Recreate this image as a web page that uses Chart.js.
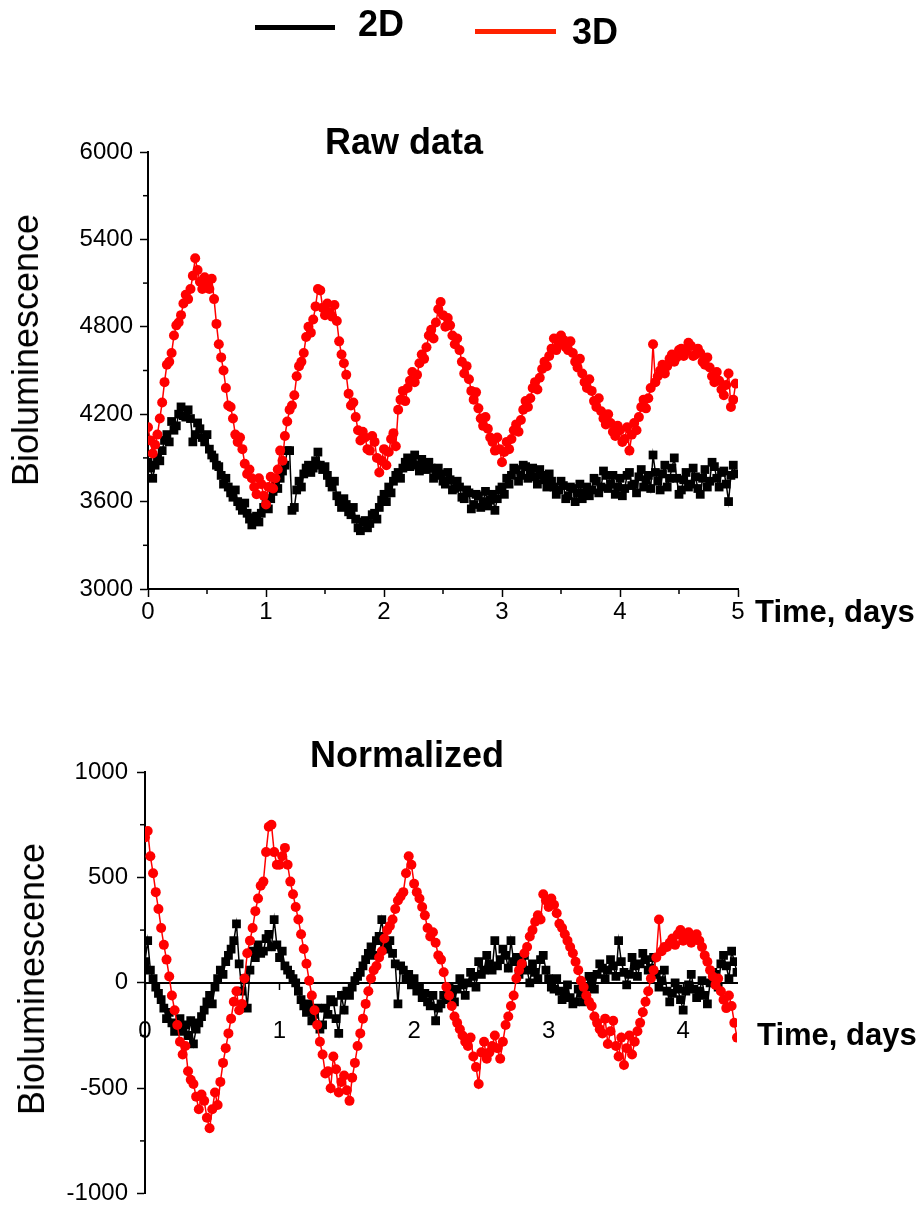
<!DOCTYPE html>
<html>
<head>
<meta charset="utf-8">
<script src="https://cdn.jsdelivr.net/npm/chart.js@4.4.1/dist/chart.umd.min.js"></script>
<style>
  body { margin: 0; background: #fff; }
  #page { position: relative; width: 924px; height: 1217px; overflow: hidden; font-family: "Liberation Sans", Arial, sans-serif; color: #000; }
  canvas { position: absolute; left: 0; }
  .txt { position: absolute; white-space: nowrap; line-height: 1; }
  .bold { font-weight: bold; }
  .key { position: absolute; height: 5px; }
</style>
</head>
<body>
<div id="page">
  <canvas id="rawChart" width="924" height="650" style="top:0"></canvas>
  <canvas id="normChart" width="924" height="567" style="top:650px"></canvas>

  <div class="key" style="left:255px;top:25px;width:80px;background:#000"></div>
  <div class="txt bold" style="left:358px;top:24px;font-size:36px;transform:translateY(-50%)">2D</div>
  <div class="key" style="left:475px;top:29px;width:81px;background:#ff2200"></div>
  <div class="txt bold" style="left:572px;top:32px;font-size:36px;transform:translateY(-50%)">3D</div>

  <div class="txt bold" style="left:404px;top:142px;font-size:36px;transform:translate(-50%,-50%)">Raw data</div>
  <div class="txt bold" style="left:755px;top:611px;font-size:31px;transform:translateY(-50%)">Time, days</div>
  <div class="txt" style="left:26px;top:350px;font-size:36px;transform:translate(-50%,-50%) rotate(-90deg)">Bioluminescence</div>

  <div class="txt bold" style="left:407px;top:755px;font-size:36px;transform:translate(-50%,-50%)">Normalized</div>
  <div class="txt bold" style="left:757px;top:1034px;font-size:31px;transform:translateY(-50%)">Time, days</div>
  <div class="txt" style="left:32px;top:979px;font-size:36px;transform:translate(-50%,-50%) rotate(-90deg)">Bioluminescence</div>
</div>

<script>
// raw bioluminescence, one reading every 0.02 day from day 0
const raw2D = [
  3870, 3830, 3760, 3850, 3900, 3880, 3950, 4020, 4060, 4010,
  4150, 4090, 4120, 4200, 4250, 4190, 4180, 4230, 4170, 4010,
  4060, 4140, 4100, 4040, 4010, 4060, 3960, 3920, 3900, 3850,
  3840, 3780, 3720, 3760, 3700, 3660, 3630, 3680, 3600, 3570,
  3540, 3590, 3520, 3480, 3440, 3490, 3500, 3460, 3520, 3560,
  3580, 3550, 3620, 3670, 3720, 3690, 3760, 3810, 3850, 3950,
  3950, 3540, 3560, 3680, 3740, 3700, 3790, 3830, 3850, 3800,
  3830, 3880, 3940, 3850, 3820, 3840, 3780, 3730, 3700, 3740,
  3640, 3600, 3560, 3620, 3580, 3530, 3510, 3560, 3480, 3420,
  3400, 3460, 3470, 3420, 3450, 3510, 3520, 3480, 3560, 3610,
  3650, 3600, 3700, 3660, 3740, 3780, 3800, 3760, 3830, 3870,
  3900, 3840, 3880, 3920, 3850, 3810, 3890, 3860, 3820, 3870,
  3830, 3760, 3780, 3830, 3790, 3740, 3720, 3800, 3750, 3680,
  3690, 3740, 3700, 3630, 3620, 3680, 3660, 3550, 3580, 3650,
  3640, 3560, 3600, 3670, 3570, 3610, 3650, 3540, 3620, 3680,
  3700, 3650, 3760, 3720, 3780, 3830, 3820, 3740, 3780, 3850,
  3840, 3760, 3790, 3830, 3770, 3720, 3820, 3780, 3750, 3700,
  3790, 3740, 3700, 3650, 3680, 3740, 3710, 3620, 3640, 3700,
  3690, 3600, 3660, 3720, 3620, 3660, 3700, 3640, 3680, 3760,
  3740, 3660, 3700, 3810, 3780, 3690, 3720, 3780, 3650, 3700,
  3760, 3640, 3690, 3780, 3800, 3710, 3720, 3660, 3770, 3820,
  3700, 3750, 3780, 3690, 3920, 3800, 3740, 3680, 3790, 3850,
  3700, 3760, 3830, 3900, 3760, 3650, 3680, 3750, 3800, 3700,
  3720, 3830, 3770, 3690, 3650, 3760, 3820, 3700, 3740, 3870,
  3840, 3760, 3700, 3800, 3810, 3720, 3600, 3780, 3850, 3790
];
const raw3D = [
  4110, 4020, 3930, 3990, 4060, 4170, 4280, 4420, 4540, 4560,
  4620, 4740, 4810, 4830, 4880, 4960, 5020, 4990, 5060, 5150,
  5270, 5190, 5110, 5060, 5140, 5090, 5060, 5130, 4990, 4820,
  4680, 4590, 4500, 4380, 4260, 4250, 4170, 4060, 4010, 4040,
  3960, 3860, 3790, 3820, 3760, 3700, 3650, 3760, 3720, 3640,
  3580, 3700, 3770, 3690, 3760, 3820, 3950, 3880, 4050, 4150,
  4230, 4260, 4330, 4460, 4530, 4560, 4620, 4730, 4800, 4760,
  4850, 4940, 5060, 5050, 4930, 4880, 4960, 4900, 4870, 4950,
  4840, 4700, 4610, 4550, 4470, 4340, 4260, 4280, 4180, 4090,
  4020, 4080, 4040, 3960, 3950, 4050, 4010, 3900, 3800, 3880,
  3960, 3850, 3940, 4030, 4070, 3980, 4230, 4300, 4360, 4290,
  4380, 4430, 4490, 4420, 4470, 4550, 4610, 4580, 4660, 4740,
  4780, 4720, 4830, 4920, 4970, 4880, 4800, 4860, 4810, 4740,
  4680, 4720, 4640, 4560, 4480, 4530, 4440, 4360, 4300, 4350,
  4240, 4170, 4120, 4180, 4100, 4040, 4010, 3950, 4040, 3960,
  3870, 3940, 4010, 3960, 4030, 4090, 4130, 4080, 4160, 4230,
  4290, 4250, 4310, 4380, 4420, 4370, 4450, 4510, 4560, 4530,
  4600, 4650, 4720, 4640, 4680, 4740, 4710, 4660, 4640, 4700,
  4620, 4560, 4520, 4580, 4480, 4420, 4380, 4440, 4360, 4290,
  4250, 4310, 4220, 4170, 4130, 4200, 4140, 4080, 4050, 4120,
  4090, 4010, 4030, 4110, 3950, 4060, 4140, 4090, 4180, 4250,
  4300, 4240, 4310, 4380, 4680, 4420, 4460, 4500, 4540, 4480,
  4530, 4580, 4610, 4560, 4590, 4640, 4650, 4600, 4630, 4690,
  4670, 4600, 4610, 4650, 4620, 4560, 4540, 4590, 4520, 4460,
  4420, 4490, 4430, 4370, 4330, 4400, 4480, 4250, 4300, 4410
];

// normalized (detrended) traces, same 0.02 day spacing, days 0 to 4.4
const norm2D = [
  100, 200, 60, 20, -20, -50, -80, -120, -170, -140,
  -190, -230, -210, -170, -230, -200, -250, -180, -290, -220,
  -190, -160, -130, -90, -60, -100, -20, 20, 60, 40,
  100, 130, 160, 200, 280, 90, -40, 20, -120, 60,
  150, 120, 180, 140, 150, 210, 230, 170, 300, 180,
  120, 150, 80, 60, 40, 20, 0, -40, -80, -110,
  -140, -100, -180, -150, -120, -220, -200, -120, -150, -80,
  -90, -170, -240, -60, -130, -40, -60, -20, 10, 30,
  50, 80, 110, 140, 170, 130, 200, 220, 300, 190,
  160, 200, 140, 90, -100, 80, 60, 20, 40, -10,
  20, -40, -20, -70, -50, -90, -110, -60, -180, -120,
  -100, -60, -80, -20, -50, -90, -30, 20, -10, -60,
  0, 50, 30, -20, 100, 40, 60, 130, 90, 60,
  200, 80, 110, 160, 130, 70, 200, 100, 120, 40,
  80, 130, 60, 0, 90, 50, 20, 110, 130, 60,
  20, -20, -30, 20, -40, -80, -50, -10, -70, -100,
  -90, -30, -50, -90, -20, 30, 10, -30, 40, 90,
  70, 20, 60, 110, 80, 30, 200, 100, 50, -10,
  40, 120, 80, 30, 90, 140, 110, 60, 70, 120,
  40, -20, 10, 60, -40, -90, -50, 0, -30, -80,
  -130, -40, -10, 40, -30, -70, -40, 10, -60, -100,
  0, 50, 40, -20, 90, 130, 80, 20, 150, 100,
  50
];
const norm3D = [
  690, 720, 600, 520, 430, 350, 260, 180, 110, 30,
  -60, -130, -200, -280, -340, -300, -420, -460, -480, -540,
  -600, -530, -560, -640, -690, -600, -520, -580, -470, -380,
  -310, -240, -170, -90, -40, -130, -100, 20, 140, 200,
  260, 340, 400, 460, 480, 620, 740, 750, 620, 560,
  560, 600, 640, 560, 480, 420, 360, 300, 230, 160,
  90, 10, -60, -130, -200, -280, -340, -430, -420, -500,
  -350, -410, -520, -470, -440, -510, -560, -450, -380, -300,
  -240, -170, -100, -40, 20, 60, 80, 120, 150, 210,
  250, 270, 300, 350, 390, 410, 430, 520, 600, 560,
  470, 430, 400, 360, 320, 260, 220, 240, 190, 130,
  110, 50, -20, -60, -110, -160, -190, -220, -250, -280,
  -300, -260, -350, -400, -480, -330, -280, -360, -330, -300,
  -250, -310, -360, -280, -200, -160, -110, -60, 20, 60,
  90, 140, 170, 220, 250, 290, 320, 300, 420, 390,
  360, 400, 370, 330, 280, 260, 230, 200, 170, 140,
  100, 60, 10, -20, -60, -90, -110, -160, -190, -220,
  -240, -170, -290, -230, -180, -300, -350, -260, -390, -310,
  -250, -340, -280, -230, -190, -140, -90, -40, 20, 60,
  120, 300, 150, 170, 170, 190, 210, 180, 230, 250,
  200, 220, 240, 190, 220, 230, 200, 170, 130, 100,
  60, 30, -10, 20, -40, -80, -120, -60, -110, -190,
  -260
];

const rawTicksX = [0, 1, 2, 3, 4, 5];
const rawMinorX = [0.5, 1.5, 2.5, 3.5, 4.5];
const rawTicksY = [3000, 3600, 4200, 4800, 5400, 6000];
const rawMinorY = [3300, 3900, 4500, 5100, 5700];
const normTicksX = [0, 1, 2, 3, 4];
const normTicksY = [-1000, -500, 0, 500, 1000];
const normMinorY = [-750, -250, 250, 750];

const FONT = '"Liberation Sans", Arial, sans-serif';
const step = 0.02;
const pts = (vals) => vals.map((y, i) => ({ x: Math.round(i * step * 100) / 100, y: y }));

// small unlabelled ticks between the labelled ones
const minorTicks = {
    id: 'minorTicks',
    afterDraw(chart, args, opts) {
        const { ctx, chartArea, scales } = chart;
        ctx.save();
        ctx.strokeStyle = '#000';
        ctx.lineWidth = 1.5;
        (opts.y || []).forEach(v => {
            const py = scales.y.getPixelForValue(v);
            ctx.beginPath();
            ctx.moveTo(chartArea.left - 5, py);
            ctx.lineTo(chartArea.left, py);
            ctx.stroke();
        });
        (opts.x || []).forEach(v => {
            const px = scales.x.getPixelForValue(v);
            ctx.beginPath();
            ctx.moveTo(px, chartArea.bottom);
            ctx.lineTo(px, chartArea.bottom + 5);
            ctx.stroke();
        });
        ctx.restore();
    }
};

function series(vals, is3D) {
    return {
        label: is3D ? '3D' : '2D',
        data: pts(vals),
        showLine: true,
        borderColor: is3D ? '#ff0000' : '#000',
        backgroundColor: is3D ? '#ff0000' : '#000',
        borderWidth: 1.5,
        pointStyle: is3D ? 'circle' : 'rect',
        pointRadius: is3D ? 5 : 6.2,
        pointBorderWidth: 0,
        order: is3D ? 1 : 2
    };
}

function yAxis(min, max, ticks, width, pad) {
    return {
        type: 'linear', min: min, max: max,
        afterBuildTicks: s => { s.ticks = ticks.map(v => ({ value: v })); },
        afterFit: s => { s.width = width; },
        grid: { drawOnChartArea: false, tickLength: 8, tickColor: '#000', tickWidth: 1.5 },
        border: { color: '#000', width: 2 },
        ticks: { color: '#000', font: { family: FONT, size: 24 }, padding: pad, callback: v => String(v) }
    };
}

new Chart(document.getElementById('rawChart'), {
    type: 'scatter',
    data: { datasets: [series(raw2D, false), series(raw3D, true)] },
    options: {
        responsive: false,
        animation: false,
        layout: { padding: { top: 152, right: 186, left: 0, bottom: 0 } },
        plugins: {
            legend: { display: false },
            tooltip: { enabled: false },
            minorTicks: { x: rawMinorX, y: rawMinorY }
        },
        scales: {
            x: {
                type: 'linear', min: 0, max: 5, position: 'bottom',
                afterBuildTicks: s => { s.ticks = rawTicksX.map(v => ({ value: v })); },
                afterFit: s => { s.height = 61; },
                grid: { drawOnChartArea: false, tickLength: 8, tickColor: '#000', tickWidth: 1.5 },
                border: { color: '#000', width: 2 },
                ticks: { color: '#000', font: { family: FONT, size: 24 }, padding: 1, maxRotation: 0, callback: v => String(v) }
            },
            y: yAxis(3000, 6000, rawTicksY, 148, 7)
        }
    },
    plugins: [minorTicks]
});

new Chart(document.getElementById('normChart'), {
    type: 'scatter',
    data: { datasets: [series(norm2D, false), series(norm3D, true)] },
    options: {
        responsive: false,
        animation: false,
        layout: { padding: { top: 122, right: 187, left: 0, bottom: 9 } },
        plugins: {
            legend: { display: false },
            tooltip: { enabled: false },
            minorTicks: { y: normMinorY }
        },
        scales: {
            x: {
                type: 'linear', min: 0, max: 4.4, position: { y: 0 },
                afterBuildTicks: s => { s.ticks = normTicksX.map(v => ({ value: v })); },
                afterFit: s => { s.height = 0; },
                grid: { drawOnChartArea: false, tickLength: 6, tickColor: '#000', tickWidth: 1.5 },
                border: { color: '#000', width: 2 },
                ticks: { color: '#000', font: { family: FONT, size: 24 }, padding: 28, maxRotation: 0, callback: v => String(v) }
            },
            y: yAxis(-1000, 1000, normTicksY, 145, 9)
        }
    },
    plugins: [minorTicks]
});
</script>
</body>
</html>
